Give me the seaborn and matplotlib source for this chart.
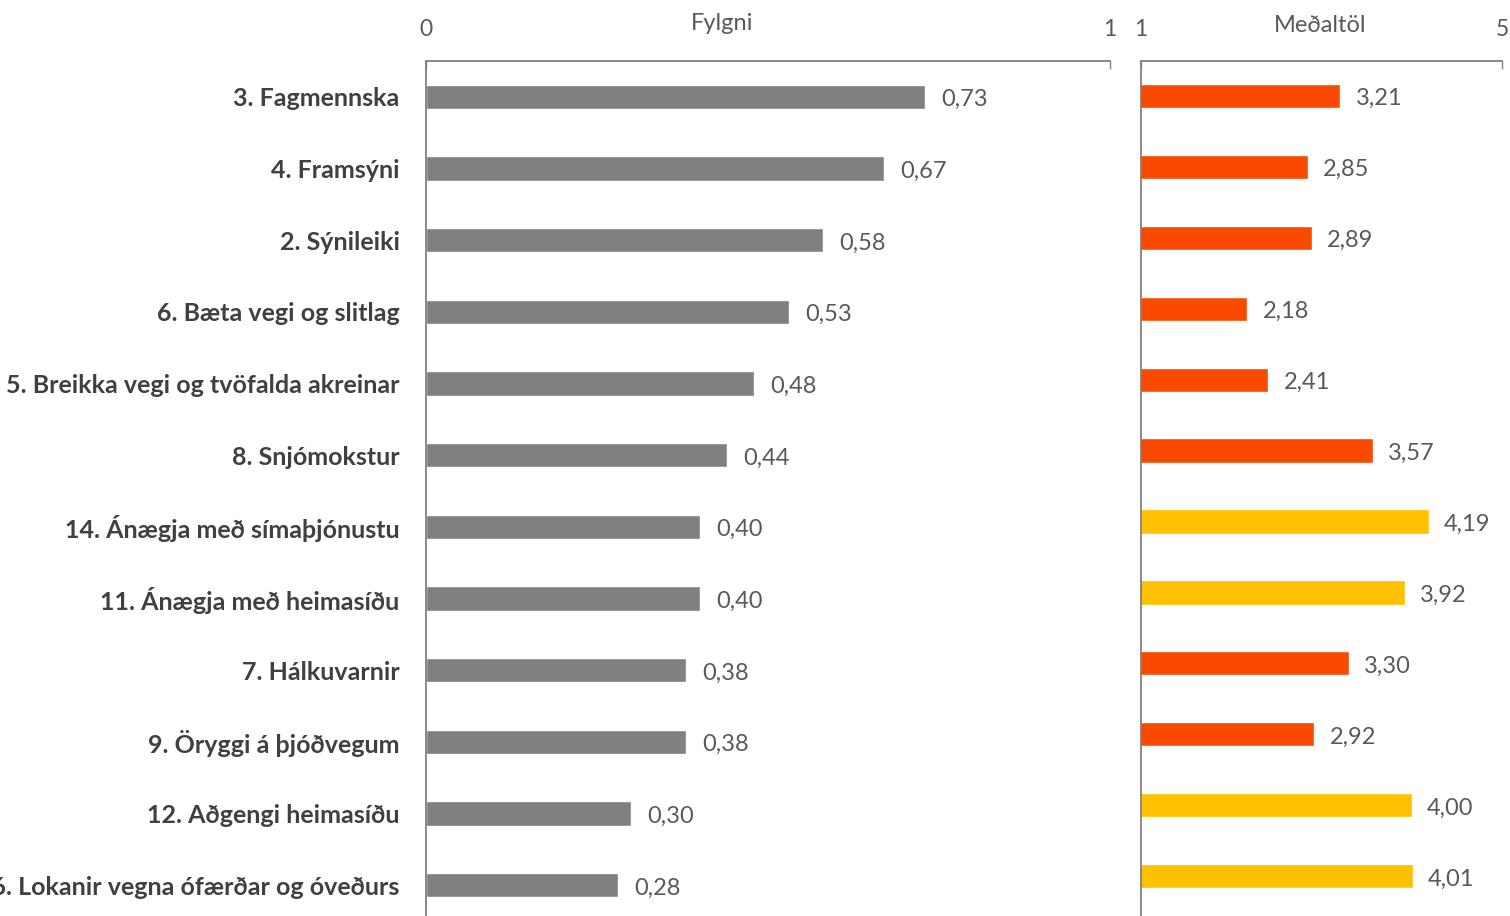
import matplotlib
matplotlib.use("Agg")
import matplotlib.pyplot as plt
import seaborn as sns
import pandas as pd

categories = [
    "3. Fagmennska",
    "4. Framsýni",
    "2. Sýnileiki",
    "6. Bæta vegi og slitlag",
    "5. Breikka vegi og tvöfalda akreinar",
    "8. Snjómokstur",
    "14. Ánægja með símaþjónustu",
    "11. Ánægja með heimasíðu",
    "7. Hálkuvarnir",
    "9. Öryggi á þjóðvegum",
    "12. Aðgengi heimasíðu",
    "16. Lokanir vegna ófærðar og óveðurs",
]
fylgni = [0.73, 0.67, 0.58, 0.53, 0.48, 0.44, 0.40, 0.40, 0.38, 0.38, 0.30, 0.28]
medaltol = [3.21, 2.85, 2.89, 2.18, 2.41, 3.57, 4.19, 3.92, 3.30, 2.92, 4.00, 4.01]
group = ["a", "a", "a", "a", "a", "a", "b", "b", "a", "a", "b", "b"]

left_title = "Fylgni"
right_title = "Meðaltöl"

df = pd.DataFrame({"cat": categories, "fylgni": fylgni, "medal": medaltol, "grp": group})

sns.set_theme(style="white")
plt.rcParams["font.family"] = ["Lato", "DejaVu Sans"]

TXT = "#404040"
VAL = "#595959"
SPINE = "#808080"

fig = plt.figure(figsize=(15.1, 9.16), dpi=100)
axL = fig.add_axes([426 / 1510, 0.0, (1110 - 426) / 1510, 1 - 61 / 916])
axR = fig.add_axes([1141 / 1510, 0.0, (1502 - 1141) / 1510, 1 - 61 / 916])

sns.barplot(data=df, y="cat", x="fylgni", color="#808080", saturation=1,
            width=0.34, ax=axL, orient="h")
sns.barplot(data=df, y="cat", x="medal", hue="grp", palette={"a": "#F94A00", "b": "#FFC000"},
            saturation=1, width=0.34, dodge=False, legend=False, ax=axR, orient="h")

axL.set_xlim(0, 1)
axL.set_ylim(11.43, -0.5)
axR.set_xlim(1, 5)
axR.set_ylim(11.56, -0.49)

for ax, ticks in ((axL, [0, 1]), (axR, [1, 5])):
    ax.xaxis.tick_top()
    ax.set_xticks(ticks)
    ax.set_xticklabels([str(t) for t in ticks])
    ax.tick_params(axis="x", direction="in", length=6, width=1, color=SPINE,
                   pad=15, labelsize=16.5, labelcolor=VAL)
    ax.set_xlabel("")
    ax.set_ylabel("")
    for s in ("bottom", "right"):
        ax.spines[s].set_visible(False)
    for s in ("top", "left"):
        ax.spines[s].set_color(SPINE)
        ax.spines[s].set_linewidth(1.3)

axL.tick_params(axis="y", length=0, pad=19, labelsize=18, labelcolor=TXT)
for lab in axL.get_yticklabels():
    lab.set_fontweight("bold")
axR.set_yticks([])

axL.text(0.433, 1 + 38 / 855, left_title, transform=axL.transAxes, ha="center", va="center",
         fontsize=17, color=VAL)
axR.text(0.495, 1 + 36 / 855, right_title, transform=axR.transAxes, ha="center", va="center",
         fontsize=17, color=VAL)

for i, v in enumerate(fylgni):
    axL.text(v + 0.024, i + 0.04, f"{v:.2f}".replace(".", ","), va="center", ha="left",
             fontsize=17, color=VAL)
for i, v in enumerate(medaltol):
    axR.text(v + 0.17, i + 0.04, f"{v:.2f}".replace(".", ","), va="center", ha="left",
             fontsize=17, color=VAL)

fig.savefig("out.png", dpi=100)
